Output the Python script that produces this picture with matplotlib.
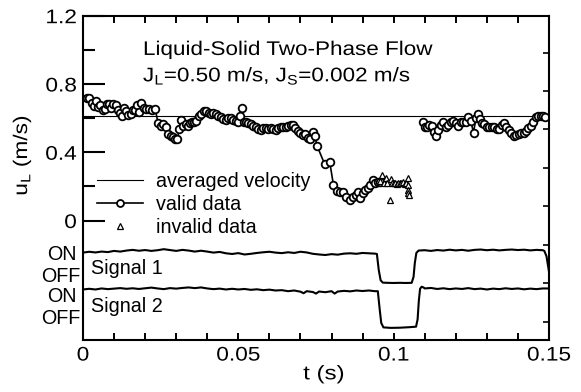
import numpy as np
import matplotlib
matplotlib.use("Agg")
import matplotlib.pyplot as plt
from matplotlib.ticker import MultipleLocator, FixedLocator
from matplotlib.lines import Line2D
from matplotlib.patheffects import AbstractPathEffect
from matplotlib.transforms import Affine2D

plt.rcParams['font.family'] = ['Liberation Sans', 'DejaVu Sans']

# ---------------- data ----------------
avg_velocity = 0.61

t_valid1 = [0.0012, 0.0020, 0.0028, 0.0035, 0.0042, 0.0049, 0.0056, 0.0063, 0.0070, 0.0077,
            0.0084, 0.0091, 0.0098, 0.0105, 0.0112, 0.0119, 0.0125, 0.0132, 0.0139, 0.0146,
            0.0153, 0.0160, 0.0167, 0.0174, 0.0181, 0.0188, 0.0195, 0.0204, 0.0213, 0.0222,
            0.0232, 0.0242, 0.0250, 0.0258, 0.0266, 0.0274, 0.0282, 0.0290, 0.0297, 0.0304,
            0.0310, 0.0316, 0.0322, 0.0330, 0.0337, 0.0344, 0.0351, 0.0358, 0.0365, 0.0372,
            0.0380, 0.0388, 0.0396, 0.0404, 0.0412, 0.0420, 0.0428, 0.0436, 0.0444, 0.0452,
            0.0460, 0.0468, 0.0476, 0.0484, 0.0492, 0.0500, 0.0506, 0.0511, 0.0517, 0.0524,
            0.0532, 0.0540, 0.0548, 0.0556, 0.0564, 0.0572, 0.0580, 0.0588, 0.0596, 0.0604,
            0.0612, 0.0620, 0.0628, 0.0636, 0.0644, 0.0652, 0.0660, 0.0668, 0.0676, 0.0684,
            0.0692, 0.0700, 0.0708, 0.0716, 0.0724, 0.0732, 0.0740, 0.0746, 0.0754, 0.0778,
            0.0794, 0.0806, 0.0817, 0.0828, 0.0838, 0.0848, 0.0858, 0.0868, 0.0878, 0.0886,
            0.0893, 0.0900, 0.0908, 0.0916, 0.0924, 0.0932, 0.0940, 0.0948, 0.0956]
u_valid1 = [0.720, 0.715, 0.690, 0.670, 0.700, 0.665, 0.675, 0.645, 0.655, 0.680,
            0.680, 0.660, 0.685, 0.675, 0.645, 0.630, 0.610, 0.660, 0.640, 0.620,
            0.625, 0.645, 0.650, 0.675, 0.635, 0.690, 0.660, 0.655, 0.655, 0.650,
            0.655, 0.570, 0.555, 0.565, 0.550, 0.505, 0.495, 0.490, 0.475, 0.480,
            0.535, 0.590, 0.555, 0.565, 0.555, 0.570, 0.575, 0.580, 0.585, 0.610,
            0.625, 0.640, 0.640, 0.630, 0.625, 0.630, 0.625, 0.615, 0.605, 0.595,
            0.590, 0.600, 0.600, 0.590, 0.585, 0.580, 0.610, 0.660, 0.580, 0.575,
            0.570, 0.565, 0.555, 0.545, 0.535, 0.530, 0.540, 0.540, 0.535, 0.540,
            0.535, 0.530, 0.540, 0.545, 0.545, 0.545, 0.555, 0.560, 0.560, 0.540,
            0.525, 0.510, 0.500, 0.505, 0.485, 0.475, 0.520, 0.495, 0.435, 0.330,
            0.345, 0.210, 0.175, 0.170, 0.170, 0.140, 0.120, 0.140, 0.150, 0.170,
            0.130, 0.160, 0.180, 0.190, 0.210, 0.235, 0.220, 0.225, 0.225]

t_valid2 = [0.1093, 0.1100, 0.1106, 0.1114, 0.1122, 0.1130, 0.1137, 0.1144, 0.1152, 0.1160,
            0.1168, 0.1176, 0.1184, 0.1192, 0.1200, 0.1208, 0.1216, 0.1224, 0.1232, 0.1240,
            0.1248, 0.1257, 0.1265, 0.1272, 0.1278, 0.1285, 0.1292, 0.1300, 0.1308, 0.1316,
            0.1324, 0.1332, 0.1340, 0.1348, 0.1355, 0.1362, 0.1370, 0.1378, 0.1386, 0.1394,
            0.1402, 0.1410, 0.1418, 0.1426, 0.1434, 0.1442, 0.1450, 0.1458, 0.1466, 0.1474,
            0.1482, 0.1488]
u_valid2 = [0.575, 0.550, 0.545, 0.560, 0.555, 0.520, 0.495, 0.530, 0.560, 0.575,
            0.545, 0.560, 0.575, 0.585, 0.570, 0.555, 0.575, 0.580, 0.580, 0.605,
            0.585, 0.515, 0.600, 0.625, 0.595, 0.570, 0.565, 0.550, 0.545, 0.545,
            0.545, 0.535, 0.535, 0.560, 0.570, 0.545, 0.530, 0.515, 0.495, 0.500,
            0.505, 0.510, 0.515, 0.525, 0.540, 0.555, 0.580, 0.605, 0.615, 0.615,
            0.610, 0.605]

t_invalid = [0.0955, 0.0962, 0.0968, 0.0975, 0.0980, 0.0987, 0.0990, 0.0995, 0.1000, 0.1005,
             0.1010, 0.1015, 0.1020, 0.1025, 0.1030, 0.1035, 0.1040, 0.1045, 0.1046, 0.1047,
             0.1047, 0.1048]
u_invalid = [0.230, 0.265, 0.220, 0.250, 0.220, 0.120, 0.245, 0.220, 0.220, 0.220,
             0.215, 0.220, 0.220, 0.220, 0.225, 0.215, 0.220, 0.250, 0.210, 0.180,
             0.160, 0.150]

sig1_t = [0.000, 0.002, 0.004, 0.006, 0.008, 0.010, 0.012, 0.014, 0.016, 0.018,
          0.020, 0.022, 0.024, 0.026, 0.028, 0.030, 0.032, 0.034, 0.036, 0.038,
          0.040, 0.042, 0.044, 0.046, 0.048, 0.050, 0.052, 0.054, 0.056, 0.058,
          0.060, 0.062, 0.064, 0.066, 0.068, 0.070, 0.072, 0.074, 0.076, 0.078,
          0.080, 0.082, 0.084, 0.086, 0.088, 0.090, 0.092, 0.094, 0.0946, 0.0952,
          0.0958, 0.0965, 0.098, 0.100, 0.102, 0.104, 0.1058, 0.1064, 0.1068, 0.1073,
          0.108, 0.110, 0.112, 0.114, 0.116, 0.118, 0.120, 0.122, 0.124, 0.126,
          0.128, 0.130, 0.132, 0.134, 0.136, 0.138, 0.140, 0.142, 0.144, 0.146,
          0.148, 0.1485, 0.1492, 0.150]
sig1_u = [-0.188, -0.183, -0.187, -0.182, -0.185, -0.178, -0.182, -0.176, -0.172, -0.177,
          -0.173, -0.178, -0.174, -0.168, -0.173, -0.178, -0.172, -0.176, -0.182, -0.177,
          -0.182, -0.188, -0.184, -0.192, -0.196, -0.191, -0.199, -0.195, -0.190, -0.186,
          -0.183, -0.188, -0.191, -0.186, -0.190, -0.183, -0.187, -0.195, -0.199, -0.202,
          -0.197, -0.200, -0.194, -0.192, -0.195, -0.190, -0.192, -0.194, -0.196, -0.290,
          -0.350, -0.364, -0.365, -0.366, -0.365, -0.366, -0.365, -0.330, -0.250, -0.190,
          -0.176, -0.174, -0.178, -0.173, -0.176, -0.171, -0.175, -0.172, -0.177, -0.172,
          -0.170, -0.174, -0.171, -0.175, -0.172, -0.170, -0.173, -0.171, -0.175, -0.172,
          -0.174, -0.178, -0.210, -0.300]

sig2_t = [0.000, 0.002, 0.004, 0.006, 0.008, 0.010, 0.012, 0.014, 0.016, 0.018,
          0.020, 0.022, 0.024, 0.026, 0.028, 0.030, 0.032, 0.034, 0.036, 0.038,
          0.040, 0.042, 0.044, 0.046, 0.048, 0.050, 0.052, 0.054, 0.056, 0.058,
          0.060, 0.062, 0.064, 0.066, 0.068, 0.070, 0.071, 0.072, 0.074, 0.075,
          0.076, 0.078, 0.080, 0.081, 0.082, 0.084, 0.086, 0.088, 0.090, 0.092,
          0.094, 0.0949, 0.0955, 0.0960, 0.0967, 0.099, 0.102, 0.105, 0.1072, 0.1077,
          0.1081, 0.1085, 0.1090, 0.1096, 0.110, 0.112, 0.114, 0.116, 0.118, 0.120,
          0.122, 0.124, 0.126, 0.128, 0.130, 0.132, 0.134, 0.136, 0.138, 0.140,
          0.142, 0.144, 0.146, 0.148, 0.150]
sig2_u = [-0.404, -0.400, -0.404, -0.398, -0.402, -0.399, -0.396, -0.400, -0.397, -0.401,
          -0.397, -0.393, -0.398, -0.402, -0.396, -0.399, -0.395, -0.392, -0.396, -0.392,
          -0.398, -0.402, -0.399, -0.404, -0.400, -0.404, -0.401, -0.406, -0.403, -0.408,
          -0.405, -0.410, -0.408, -0.414, -0.410, -0.417, -0.426, -0.414, -0.419, -0.428,
          -0.416, -0.420, -0.414, -0.428, -0.416, -0.412, -0.415, -0.410, -0.413, -0.410,
          -0.414, -0.414, -0.520, -0.600, -0.626, -0.629, -0.628, -0.625, -0.622, -0.580,
          -0.470, -0.400, -0.388, -0.392, -0.398, -0.395, -0.401, -0.397, -0.402, -0.398,
          -0.401, -0.396, -0.402, -0.399, -0.404, -0.399, -0.402, -0.397, -0.401, -0.398,
          -0.403, -0.399, -0.402, -0.398, -0.398]

x_tick_vals = [0, 0.05, 0.1, 0.15]
x_tick_labels = ['0', '0.05', '0.1', '0.15']
y_tick_vals = [0, 0.4, 0.8, 1.2]
y_tick_labels = ['0', '0.4', '0.8', '1.2']
right_tick_vals = [0.981, 0.757, 0.534, 0.310, 0.083, -0.143, -0.367, -0.594]


class HStretch(AbstractPathEffect):
    """Widen glyphs horizontally (in the text's own frame) about an anchor."""
    def __init__(self, sx, anchor='left'):
        super().__init__()
        self.sx = sx
        self.anchor = anchor

    def draw_path(self, renderer, gc, tpath, affine, rgbFace=None):
        ext = tpath.get_extents()
        if self.anchor == 'center':
            a = 0.5 * (ext.x0 + ext.x1)
        elif self.anchor == 'right':
            a = ext.x1
        else:
            a = 0.0
        tr = Affine2D().translate(-a, 0).scale(self.sx, 1).translate(a, 0)
        renderer.draw_path(gc, tpath, tr + affine, rgbFace)


# ---------------- figure ----------------
fig = plt.figure(figsize=(5.81, 3.92), dpi=100)
ax = fig.add_axes([83/581, 1-340/392, 466/581, 324.3/392])

FS = 14.2
ax.axhline(avg_velocity, color='black', lw=0.8)
ax.plot(t_valid1, u_valid1, '-o', color='black', lw=1.2, ms=5.5, mfc='white',
        mec='black', mew=1.3)
ax.plot(t_valid2, u_valid2, '-o', color='black', lw=1.2, ms=5.5, mfc='white',
        mec='black', mew=1.3)
ax.plot(t_invalid, u_invalid, '^', ls='none', ms=5, mfc='white', mec='black', mew=0.9)
ax.plot(sig1_t, sig1_u, color='black', lw=1.5)
ax.plot(sig2_t, sig2_u, color='black', lw=1.5)

ax.set_xlim(0, 0.15)
ax.set_ylim(-0.7, 1.2)

for s in ax.spines.values():
    s.set_linewidth(1.5)

ax.xaxis.set_major_locator(FixedLocator(x_tick_vals))
ax.set_xticklabels(x_tick_labels)
ax.xaxis.set_minor_locator(MultipleLocator(0.01))
ax.tick_params(axis='x', which='both', direction='in', top=True, bottom=True,
               length=5, width=1.4, labelsize=FS, pad=4)

ax.yaxis.set_major_locator(FixedLocator(y_tick_vals))
ax.set_yticklabels(y_tick_labels)
ax.yaxis.set_minor_locator(FixedLocator([0.2, 0.6, 1.0]))
ax.tick_params(axis='y', which='major', direction='in', left=True, right=False,
               length=16, width=1.5, labelsize=FS, pad=4.5)
ax.tick_params(axis='y', which='minor', direction='in', left=True, right=False,
               length=8.5, width=1.5)

for lab in ax.get_xticklabels():
    lab.set_path_effects([HStretch(1.15, 'center')])
for lab in ax.get_yticklabels():
    lab.set_path_effects([HStretch(1.15, 'right')])

axr = ax.twinx()
axr.set_ylim(ax.get_ylim())
axr.yaxis.set_major_locator(FixedLocator(right_tick_vals))
axr.tick_params(axis='y', direction='in', length=4.3, width=1.2, labelright=False)
for s in axr.spines.values():
    s.set_visible(False)

xl = ax.set_xlabel('t (s)', fontsize=FS)
xl.set_path_effects([HStretch(1.22, 'center')])
ax.xaxis.set_label_coords(0.517, -0.075)
yl = ax.set_ylabel(r'u$_\mathregular{L}$ (m/s)', fontsize=FS)
yl.set_path_effects([HStretch(1.15, 'center')])
ax.yaxis.set_label_coords(-0.107, 0.57)

tr = ax.get_yaxis_transform()
ax.text(-0.0135, -0.202, 'ON', transform=tr, ha='right', va='center', fontsize=FS)
ax.text(-0.0064, -0.33, 'OFF', transform=tr, ha='right', va='center', fontsize=FS)
ax.text(-0.0135, -0.447, 'ON', transform=tr, ha='right', va='center', fontsize=FS)
ax.text(-0.0064, -0.574, 'OFF', transform=tr, ha='right', va='center', fontsize=FS)

ax.text(0.0025, -0.284, 'Signal 1', ha='left', va='center', fontsize=FS)
ax.text(0.0025, -0.502, 'Signal 2', ha='left', va='center', fontsize=FS)

t1 = ax.text(0.0193, 0.97, 'Liquid-Solid Two-Phase Flow', ha='left', va='baseline', fontsize=FS)
t2 = ax.text(0.0193, 0.815, r'J$_\mathregular{L}$=0.50 m/s, J$_\mathregular{S}$=0.002 m/s',
             ha='left', va='baseline', fontsize=FS)
t1.set_path_effects([HStretch(1.14, 'left')])
t2.set_path_effects([HStretch(1.14, 'left')])

h_avg = Line2D([], [], color='black', lw=0.8)
h_val = Line2D([], [], color='black', lw=1.2, marker='o', ms=5, mfc='white', mew=1.3)
h_inv = Line2D([], [], ls='none', marker='^', ms=5, mfc='white', mec='black', mew=0.9)
ax.legend([h_avg, h_val, h_inv], ['averaged velocity', 'valid data', 'invalid data'],
          loc='upper left', bbox_to_anchor=(0.0294, 0.518), frameon=False,
          fontsize=FS, handlelength=2.35, handletextpad=0.68, labelspacing=0.21,
          borderpad=0, borderaxespad=0, numpoints=1)

fig.savefig('out.png', dpi=100)
